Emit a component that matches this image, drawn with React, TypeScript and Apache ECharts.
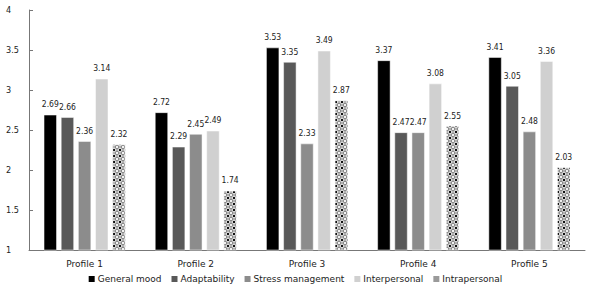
import React, { useEffect, useRef } from "react";
import * as echarts from "echarts";

const categories = ["Profile 1", "Profile 2", "Profile 3", "Profile 4", "Profile 5"];
const seriesNames = ["General mood", "Adaptability", "Stress management", "Interpersonal", "Intrapersonal"];
const generalMood = [2.69, 2.72, 3.53, 3.37, 3.41];
const adaptability = [2.66, 2.29, 3.35, 2.47, 3.05];
const stressManagement = [2.36, 2.45, 2.33, 2.47, 2.48];
const interpersonal = [3.14, 2.49, 3.49, 3.08, 3.36];
const intrapersonal = [2.32, 1.74, 2.87, 2.55, 2.03];
const yTicks = [1, 1.5, 2, 2.5, 3, 3.5, 4];

function makePattern(): HTMLCanvasElement {
  const c = document.createElement("canvas");
  c.width = 6;
  c.height = 6;
  const ctx = c.getContext("2d")!;
  ctx.fillStyle = "#d8d8d8";
  ctx.fillRect(0, 0, 6, 6);
  ctx.fillStyle = "#8a8a8a";
  ctx.beginPath();
  ctx.moveTo(3, 0);
  ctx.lineTo(6, 3);
  ctx.lineTo(3, 6);
  ctx.lineTo(0, 3);
  ctx.closePath();
  ctx.fill();
  ctx.fillStyle = "#f2f2f2";
  ctx.fillRect(2, 2, 2, 2);
  ctx.fillStyle = "#111";
  ctx.fillRect(0, 0, 1, 1);
  ctx.fillRect(5, 5, 1, 1);
  ctx.fillRect(0, 5, 1, 1);
  ctx.fillRect(5, 0, 1, 1);
  return c;
}

export default function App() {
  const ref = useRef<HTMLDivElement>(null);
  useEffect(() => {
    const chart = echarts.init(ref.current!, null, { renderer: "svg" });
    const pattern = makePattern();
    const colors: any[] = ["#000000", "#595959", "#8c8c8c", "#d0d0d0", { image: pattern, repeat: "repeat" }];
    const dataSets = [generalMood, adaptability, stressManagement, interpersonal, intrapersonal];
    const font = "DejaVu Sans";
    const narrow = "DejaVu Sans Condensed";
    chart.setOption({
      animation: false,
      textStyle: { fontFamily: font },
      grid: { left: 29, right: 4, top: 10, bottom: 39, containLabel: false },
      legend: {
        bottom: 0,
        left: "center",
        itemWidth: 8,
        itemHeight: 8,
        itemGap: 8,
        icon: "rect",
        textStyle: { fontSize: 9, color: "#222", fontFamily: font, padding: [0, 0, 0, -3] },
        data: seriesNames.map((n, i) => ({
          name: n,
          itemStyle: i === 4 ? { color: "#9a9a9a" } : undefined,
        })),
      },
      xAxis: {
        type: "category",
        data: categories,
        axisLine: { lineStyle: { color: "#777", width: 1 } },
        axisTick: { show: false },
        axisLabel: { fontSize: 9, color: "#222", margin: 9, fontFamily: font },
      },
      yAxis: {
        type: "value",
        min: 1,
        max: 4,
        interval: 0.5,
        splitLine: { show: false },
        axisLine: { show: true, lineStyle: { color: "#777", width: 1 } },
        axisTick: { show: true, inside: true, length: 4, lineStyle: { color: "#777" } },
        axisLabel: {
          fontSize: 9,
          color: "#222",
          align: "left",
          margin: 23,
          fontFamily: narrow,
          formatter: (v: number) => (yTicks.includes(v) ? String(v) : ""),
        },
      },
      series: seriesNames.map((name, i) => ({
        name,
        type: "bar",
        data: dataSets[i],
        barWidth: 13,
        barGap: "32%",
        itemStyle: { color: colors[i], borderColor: "#ffffff", borderWidth: 0.5 },
        label: {
          show: true,
          position: "top",
          distance: 6,
          fontSize: 8.5,
          color: "#222",
          fontFamily: narrow,
          formatter: (p: any) => p.value.toFixed(2),
        },
      })),
    });
    return () => chart.dispose();
  }, []);
  return <div ref={ref} style={{ width: 589, height: 289, position: "absolute", left: 0, top: 0 }} />;
}
